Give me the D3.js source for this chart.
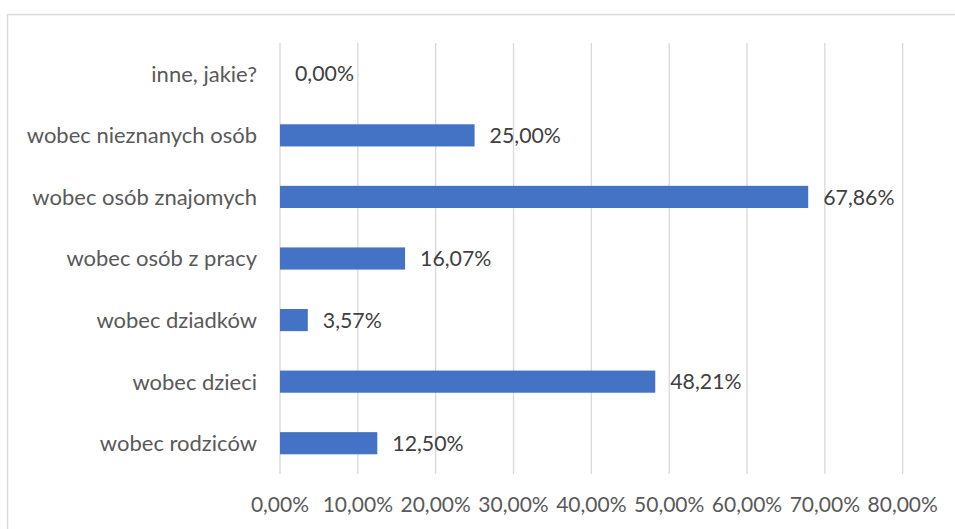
<!DOCTYPE html>
<html>
<head>
<meta charset="utf-8">
<script src="https://cdn.jsdelivr.net/npm/d3@7"></script>
<style>
  html, body { margin: 0; padding: 0; background: #fff; }
  svg { display: block; }
  text { font-family: Lato, "Open Sans", sans-serif; }
</style>
</head>
<body>
<svg id="chart" width="955" height="529"></svg>
<script>
const categories = ["inne, jakie?", "wobec nieznanych osób", "wobec osób znajomych", "wobec osób z pracy", "wobec dziadków", "wobec dzieci", "wobec rodziców"];
const values = [0, 25.00, 67.86, 16.07, 3.57, 48.21, 12.50];
const tickValues = [0, 10, 20, 30, 40, 50, 60, 70, 80];

const fmt = v => v.toFixed(2).replace(".", ",") + "%";

const svg = d3.select("#chart");
const W = 955, H = 529;

// chart border
svg.append("rect")
  .attr("x", 7.5).attr("y", 14.5)
  .attr("width", W + 10).attr("height", H + 10)
  .attr("fill", "none").attr("stroke", "#d9d9d9").attr("stroke-width", 1.5);

const plot = { left: 280, right: 902.7, top: 43, bottom: 474 };

const x = d3.scaleLinear().domain([0, 80]).range([plot.left, plot.right]);
const y = d3.scaleBand().domain(categories).range([plot.top, plot.bottom]).paddingInner(0.64).paddingOuter(0.32);

// gridlines
svg.append("g").selectAll("line").data(tickValues).join("line")
  .attr("x1", d => x(d)).attr("x2", d => x(d))
  .attr("y1", plot.top).attr("y2", plot.bottom)
  .attr("stroke", "#d9d9d9").attr("stroke-width", 1.3);

// bars
svg.append("g").selectAll("rect").data(values).join("rect")
  .attr("x", x(0))
  .attr("y", (d, i) => y(categories[i]))
  .attr("width", d => x(d) - x(0))
  .attr("height", y.bandwidth())
  .attr("fill", "#4472c4");

// data labels
svg.append("g").selectAll("text").data(values).join("text")
  .attr("x", d => x(d) + 15)
  .attr("y", (d, i) => y(categories[i]) + y.bandwidth() / 2)
  .attr("dy", "0.36em")
  .attr("font-size", 21.3)
  .attr("fill", "#404040")
  .text(d => fmt(d));

// category labels
svg.append("g").selectAll("text").data(categories).join("text")
  .attr("x", plot.left - 23)
  .attr("y", d => y(d) + y.bandwidth() / 2)
  .attr("dy", "0.36em")
  .attr("text-anchor", "end")
  .attr("font-size", 22)
  .attr("fill", "#595959")
  .text(d => d);

// x tick labels
svg.append("g").selectAll("text").data(tickValues).join("text")
  .attr("x", d => x(d))
  .attr("y", 512)
  .attr("text-anchor", "middle")
  .attr("font-size", 21)
  .attr("fill", "#595959")
  .text(d => fmt(d));
</script>
</body>
</html>
